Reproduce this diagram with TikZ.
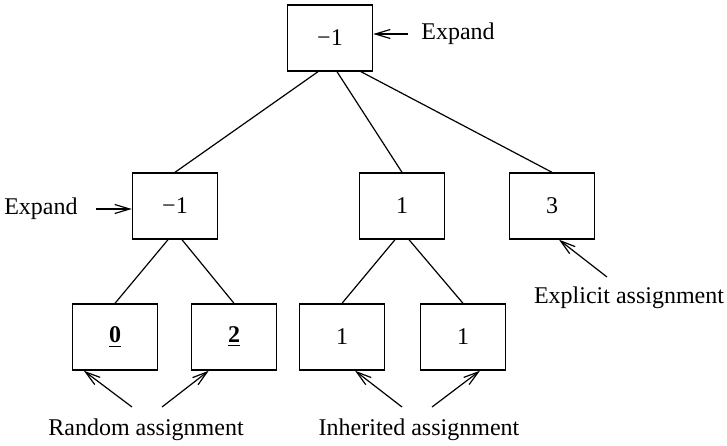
\documentclass[tikz,border=0pt]{standalone}
\usepackage{fontspec}
\setmainfont{Liberation Serif}
\usetikzlibrary{arrows.meta}

\begin{document}
\begin{tikzpicture}[
  x=0.5pt, y=-0.5pt, font=\fontsize{12}{14}\selectfont,
  cell/.style={draw, rectangle, line width=0.7pt, minimum width=42.5pt, minimum height=33pt, inner sep=0pt},
  note/.style={inner sep=0pt},
  link/.style={line width=0.6pt},
  arr/.style={line width=0.6pt, -{Straight Barb[length=7.5pt,width=4.5pt]}}
]
  \useasboundingbox (0,0) rectangle (727,445);

  % the tree
  \node[cell] (root) at (330,38) {−1};
  \node[cell] (left) at (175,206) {−1};
  \node[cell] (mid) at (402,206) {1};
  \node[cell] (right) at (552,206) {3};
  \node[cell] (rndA) at (115,337) {\underline{\textbf{0}}};
  \node[cell] (rndB) at (234,337) {\underline{\textbf{2}}};
  \node[cell] (inhA) at (342,337) {1};
  \node[cell] (inhB) at (463,337) {1};

  \draw[link] ([xshift=-6pt]root.south) -- (left.north);
  \draw[link] ([xshift=3.5pt]root.south) -- (mid.north);
  \draw[link] ([xshift=15.5pt]root.south) -- (right.north);
  \draw[link] ([xshift=-3.5pt]left.south) -- (rndA.north);
  \draw[link] ([xshift=3.5pt]left.south) -- (rndB.north);
  \draw[link] ([xshift=-3.5pt]mid.south) -- (inhA.north);
  \draw[link] ([xshift=3.5pt]mid.south) -- (inhB.north);

  % labels
  \node[note, anchor=west] (expTop) at (421,34) {Expand};
  \node[note, anchor=east] (expLeft) at (78,209) {Expand};
  \node[note] (rnd) at (146,430) {Random assignment};
  \node[note] (inh) at (419,430) {Inherited assignment};
  \node[note] (expl) at (629,298) {Explicit assignment};

  \coordinate (r1) at (132,407);
  \coordinate (r2) at (162,407);
  \coordinate (i1) at (402,407);
  \coordinate (i2) at (432,407);
  \coordinate (e1) at (607,277);

  \draw[arr] ([xshift=-6.5pt]expTop.west) -- ([yshift=2pt]root.east);
  \draw[arr] ([xshift=9pt]expLeft.east) -- ([yshift=-1.5pt]left.west);
  \draw[arr] (r1) -- ([xshift=6pt]rndA.south west);
  \draw[arr] (r2) -- ([xshift=9pt]rndB.south west);
  \draw[arr] (i1) -- ([xshift=6.5pt]inhA.south);
  \draw[arr] (i2) -- ([xshift=8.5pt]inhB.south);
  \draw[arr] (e1) -- ([xshift=3.5pt]right.south);
\end{tikzpicture}
\end{document}
